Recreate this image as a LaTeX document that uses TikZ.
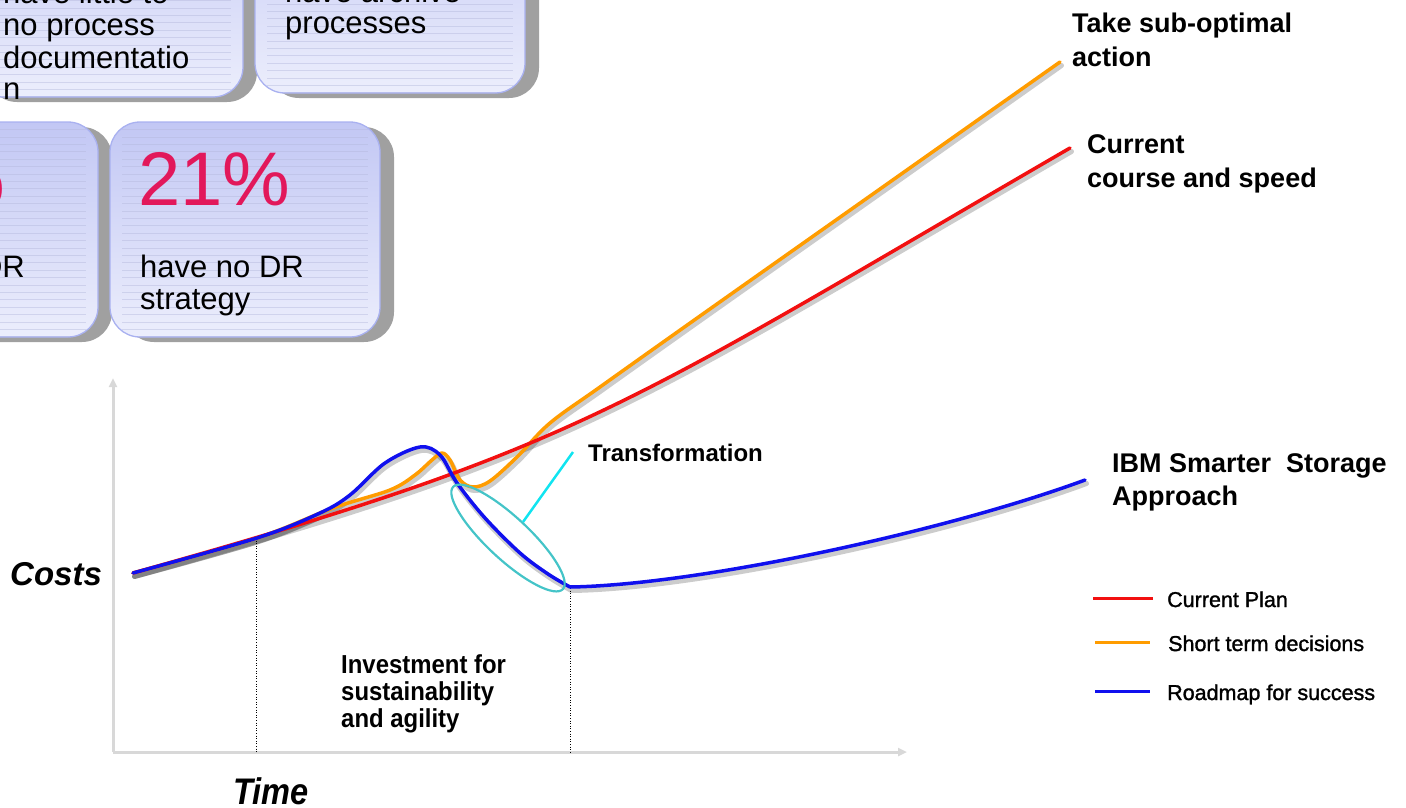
\documentclass[tikz,border=0pt]{standalone}
\usepackage{fontspec}
\setmainfont{Liberation Sans}
\newfontfamily\narrowfont[FakeStretch=0.92]{Liberation Sans}
\newfontfamily\timefont[FakeStretch=0.88]{Liberation Sans}
\newfontfamily\legendfont[FakeBold=1.4]{Liberation Sans}
\usetikzlibrary{shapes.geometric,shadows,arrows.meta}
\definecolor{boxtop}{HTML}{C2C7F4}
\definecolor{boxbot}{HTML}{ECEEFC}
\definecolor{boxedge}{HTML}{A9B1F0}
\definecolor{boxshadow}{HTML}{A0A0A0}
\definecolor{stripecol}{HTML}{B4B8DC}
\definecolor{pct}{HTML}{E2185B}
\definecolor{plan}{HTML}{F21010}
\definecolor{short}{HTML}{FF9C00}
\definecolor{road}{HTML}{1010EE}
\definecolor{ring}{HTML}{44C4C8}
\definecolor{pointer}{HTML}{10E4F0}
\definecolor{axisgray}{HTML}{D8D8D8}
\tikzset{
  statbox/.style={draw=boxedge, line width=1.3pt, rounded corners=30pt,
    top color=boxtop, bottom color=boxbot, minimum width=270pt, minimum height=215pt,
    anchor=north west, inner sep=0pt, outer sep=0pt,
    drop shadow={shadow xshift=14pt, shadow yshift=-5pt, fill=boxshadow, opacity=1},
    path picture={\foreach \k in {1,...,29}{\draw[stripecol, line width=0.6pt, opacity=0.45]
      ([xshift=12pt,yshift=-\k*7.4pt]path picture bounding box.north west) --
      ([xshift=-12pt,yshift=-\k*7.4pt]path picture bounding box.north east);}}},
  boxtext/.style={font=\fontsize{31}{32}\selectfont, anchor=base west, inner sep=0pt},
  pcttext/.style={font=\fontsize{76}{80}\selectfont, text=pct, anchor=base west, inner sep=0pt},
  lbl/.style={font=\fontsize{27}{30}\selectfont\bfseries, anchor=base west, inner sep=0pt},
  invest/.style={font=\narrowfont\fontsize{26}{28}\selectfont\bfseries, anchor=base west, inner sep=0pt},
  legtext/.style={font=\legendfont\fontsize{21.5}{24}\selectfont, anchor=base west, inner sep=0pt},
  curve/.style={line width=3.5pt, line cap=round, line join=round},
  curveshadow/.style={draw=black, opacity=0.2, line width=5pt, line cap=round, line join=round,
    transform canvas={shift={(1.5pt,-3.5pt)}}},
  axisline/.style={draw=axisgray, line width=3pt, -{Triangle[length=9pt,width=8pt]}},
  guide/.style={draw=black, line width=0.8pt, dash pattern=on 1pt off 1.6pt},
  legline/.style={line width=3pt},
}
\begin{document}
\begin{tikzpicture}[x=1pt,y=-1pt]
\useasboundingbox (0,0) rectangle (1406,807);
% statistic boxes
\node[statbox] (boxA) at (-27,-118) {};
\node[statbox] (boxB) at (255,-122) {};
\node[statbox] (boxC) at (-172,122) {};
\node[statbox] (boxD) at (110,122) {};
\node[boxtext] (a1) at (3,3) {have little to};
\node[boxtext] (a2) at (3,35.5) {no process};
\node[boxtext] (a3) at (3,68) {documentatio};
\node[boxtext] (a4) at (3,99) {n};
\node[boxtext] (b1) at (285,2) {have archive};
\node[boxtext] (b2) at (285,33) {processes};
\node[pcttext, anchor=base east] (c1) at (5,205) {\%};
\node[boxtext, anchor=base east] (c2) at (25,277) {DR};
\node[pcttext] (d1) at (138,205) {21\%};
\node[boxtext] (d2) at (140,277) {have no DR};
\node[boxtext] (d3) at (140,309) {strategy};
% axes
\coordinate (origin) at (113,752);
\coordinate (ytip) at (113,378);
\coordinate (xtip) at (907,752);
\draw[axisline] (origin) -- (ytip);
\draw[axisline] (origin) -- (xtip);
\coordinate (g1t) at (256,538);
\coordinate (g1b) at (256,752);
\coordinate (g2t) at (570,588);
\coordinate (g2b) at (570,752);
\draw[guide] (g1t) -- (g1b);
\draw[guide] (g2t) -- (g2b);
% curves
\def\orangepath{plot[smooth, tension=0.55] coordinates {(133,573) (257,538) (333,508) (390,490) (415,475) (432,460) (442,453) (450,460) (460,480) (473,487) (490,481) (517,457) (550,423) (600,387) (700,316) (880,189) (1060,62)}}
\def\redpath{(133,573) .. controls (583,447) and (620,409) .. (1070,148)}
\def\bluepath{plot[smooth, tension=0.55] coordinates {(133,573) (257,538) (320,513) (350,495) (385,463) (420,447) (440,455) (457,483) (485,518) (520,553) (548,574) (570,587)} (570,587) .. controls (700,585) and (950,530) .. (1085,480)}
\draw[curveshadow] \orangepath;
\draw[curveshadow] \redpath;
\draw[curveshadow] \bluepath;
\draw[curve, short] \orangepath;
\draw[curve, plan] \redpath;
\draw[curve, road] \bluepath;
% transformation marker
\node[ellipse, draw=ring, line width=2.2pt, minimum width=150pt, minimum height=42pt, inner sep=0pt, rotate=-43] (trans) at (508,538) {};
\coordinate (tpoint) at (573,452);
\draw[pointer, line width=2.5pt] (trans.north) -- (tpoint);
\node[lbl, font=\fontsize{24}{27}\selectfont\bfseries] (tlabel) at (588,461) {Transformation};
% labels
\node[lbl] (sub1) at (1072,32) {Take sub-optimal};
\node[lbl] (sub2) at (1072,66) {action};
\node[lbl] (cur1) at (1087,153) {Current};
\node[lbl] (cur2) at (1087,187) {course and speed};
\node[lbl] (ibm1) at (1112,472) {IBM Smarter\ \ Storage};
\node[lbl] (ibm2) at (1112,505) {Approach};
\node[invest] (inv1) at (341,673) {Investment for};
\node[invest] (inv2) at (341,700) {sustainability};
\node[invest] (inv3) at (341,727) {and agility};
\node[font=\fontsize{33}{36}\selectfont\bfseries\itshape, anchor=base west, inner sep=0pt] (costs) at (10,585) {Costs};
\node[font=\timefont\fontsize{37}{40}\selectfont\bfseries\itshape, anchor=base west, inner sep=0pt] (time) at (233,804) {Time};
% legend
\coordinate (l1a) at (1093,598); \coordinate (l1b) at (1153,598);
\coordinate (l2a) at (1095,642); \coordinate (l2b) at (1150,642);
\coordinate (l3a) at (1095,691); \coordinate (l3b) at (1150,691);
\draw[legline, plan] (l1a) -- (l1b);
\draw[legline, short] (l2a) -- (l2b);
\draw[legline, road] (l3a) -- (l3b);
\node[legtext] (leg1) at (1167,607) {Current Plan};
\node[legtext] (leg2) at (1168,651) {Short term decisions};
\node[legtext] (leg3) at (1167,700) {Roadmap for success};
\end{tikzpicture}
\end{document}
